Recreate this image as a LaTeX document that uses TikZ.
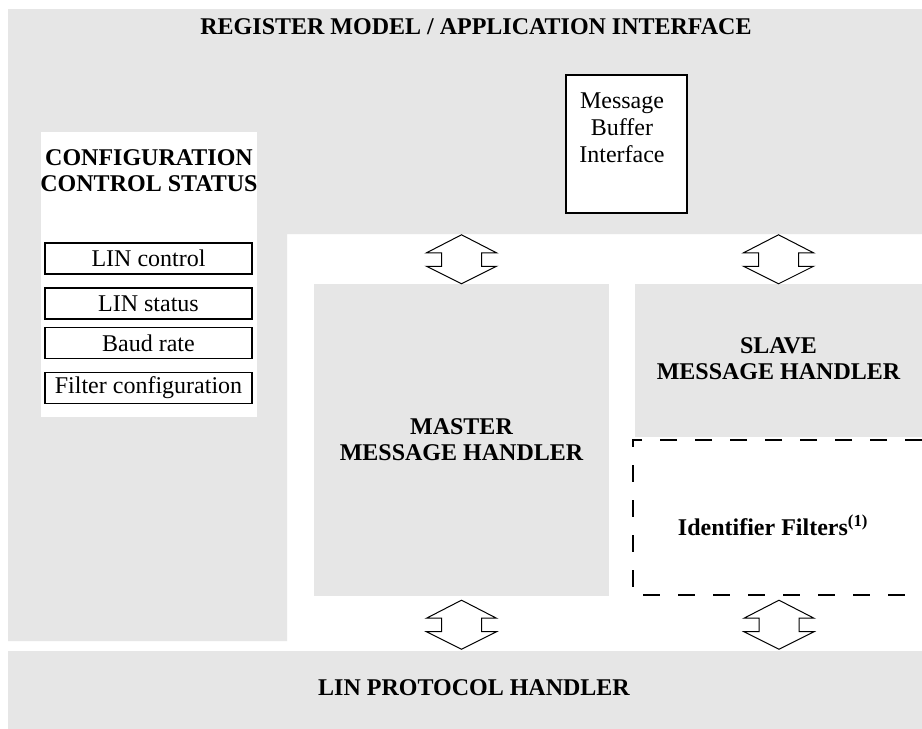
\documentclass[tikz,border=0pt]{standalone}
\usepackage{fontspec}
\setmainfont{Liberation Serif}
\usetikzlibrary{calc}
\definecolor{panelgrey}{RGB}{230,230,230}

\tikzset{
  panel/.style={fill=panelgrey, inner sep=0pt},
  headtext/.style={font=\bfseries\fontsize{24}{26}\selectfont, align=center, inner sep=0pt},
  bodytext/.style={font=\fontsize{24}{27}\selectfont, align=center, inner sep=0pt},
  regbox/.style={draw, line width=1.3pt, fill=white, minimum width=207pt,
    minimum height=31pt, inner sep=0pt, font=\fontsize{24}{26}\selectfont},
  busarrow/.pic={
    \draw[line width=1pt, fill=white] (0,-24.5) -- (-35,-6.5) -- (-20,-6.5) -- (-20,7)
      -- (-35,7) -- (0,24.5) -- (35,7) -- (20,7) -- (20,-6.5) -- (35,-6.5) -- cycle;
  }
}

\begin{document}
\begin{tikzpicture}[x=1pt,y=-1pt]
  \useasboundingbox[fill=white] (0,0) rectangle (922,729);
  % Register model / application interface
  \fill[panelgrey] (8,9) -- (922,9) -- (922,234) -- (287,234) -- (287,641)
    -- (8,641) -- cycle;
  \node[headtext] (regif) at (476,27) {REGISTER MODEL / APPLICATION INTERFACE};
  % Configuration / control / status
  \node[fill=white, inner sep=0pt, minimum width=216pt, minimum height=285pt]
    (config) at (149,274.5) {};
  \node[headtext] (cfgtitle) at (149,171) {CONFIGURATION\\CONTROL STATUS};
  \node[regbox] (lincontrol) at (148.5,258.5) {LIN control};
  \node[regbox] (linstatus) at (148.5,303.5) {LIN status};
  \node[regbox] (baudrate) at (148.5,343) {Baud rate};
  \node[regbox] (filtercfg) at (148.5,388) {Filter configuration};
  % Message buffer
  \node[draw, line width=1.3pt, fill=white, inner sep=0pt, minimum width=121pt,
    minimum height=138pt] (mbuf) at (626.5,144) {};
  \node[bodytext] (mbuftext) at (622,127.5) {Message\\Buffer\\Interface};
  % Handlers
  \node[panel, minimum width=295pt, minimum height=312pt] (master) at (461.5,440) {};
  \node[headtext] (mastertext) at (master.center) {MASTER\\MESSAGE HANDLER};
  \node[panel, minimum width=287pt, minimum height=153pt] (slave) at (778.5,360.5) {};
  \node[headtext] (slavetext) at (778.5,359) {SLAVE\\MESSAGE HANDLER};
  % Identifier filters
  \node[inner sep=0pt, minimum width=289pt, minimum height=155pt] (filters)
    at (777.5,517.5) {};
  \draw[line width=2.3pt, dash pattern=on 17pt off 18pt]
    (filters.north east) -- (filters.north west) -- (filters.south west)
    -- (filters.south east);
  \node[headtext] (filtertext) at (773,525) {Identifier Filters\textsuperscript{(1)}};
  % LIN protocol handler
  \node[panel, minimum width=914pt, minimum height=78pt] (protocol) at (465,690) {};
  \node[headtext] (prototext) at (474,688) {LIN PROTOCOL HANDLER};
  % Bus arrows
  \pic at ($(master.north)+(0,-24.5)$) {busarrow};
  \pic at ($(slave.north)+(0,-24.5)$) {busarrow};
  \pic at ($(master.south)+(0,28.5)$) {busarrow};
  \pic at ($(filters.south)+(1.5,29.5)$) {busarrow};
\end{tikzpicture}
\end{document}
